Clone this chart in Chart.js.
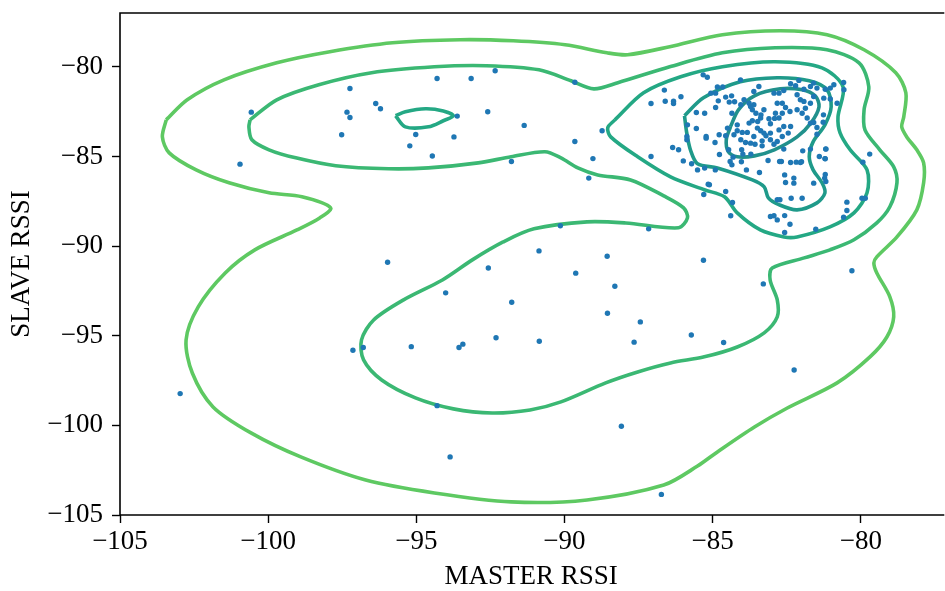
<!DOCTYPE html>
<html><head><meta charset="utf-8">
<script src="https://cdn.jsdelivr.net/npm/chart.js@4.4.1/dist/chart.umd.min.js"></script>
<style>html,body{margin:0;padding:0;background:#fff;}#wrap{width:945px;height:591px;}</style>
</head><body><div id="wrap"><canvas id="c" width="945" height="591"></canvas></div>
<script>
// axis ticks
const xTicks = [-105, -100, -95, -90, -85, -80];
const yTicks = [-105, -100, -95, -90, -85, -80];
const xRange = [-105, -77.25];
const yRange = [-105, -77.0];
const xTitle = 'MASTER RSSI';
const yTitle = 'SLAVE RSSI';

// scatter samples [master, slave]
const samples = [
[-100.57,-82.53],[-100.95,-85.43],[-97.24,-81.21],[-97.34,-82.53],[-97.24,-82.83],[-96.37,-82.05],[-96.21,-82.34],[-97.52,-83.79],
[-94.30,-80.65],[-93.15,-80.65],[-92.34,-80.22],[-93.62,-82.75],[-92.59,-82.51],[-91.36,-83.27],[-95.02,-83.78],[-93.73,-83.91],
[-95.22,-84.41],[-94.46,-84.98],[-89.65,-84.17],[-89.04,-85.12],[-91.79,-85.28],[-89.18,-86.21],[-89.65,-80.86],
[-90.14,-88.87],[-95.97,-90.90],[-90.86,-90.27],[-85.31,-90.79],[-92.57,-91.22],[-89.62,-91.51],[-88.30,-92.24],[-94.01,-92.61],
[-91.78,-93.13],[-88.55,-93.75],[-87.44,-94.23],[-92.31,-95.11],[-90.85,-95.31],[-87.65,-95.36],[-85.72,-94.96],[-84.63,-95.38],
[-97.14,-95.81],[-96.79,-95.66],[-95.17,-95.61],[-93.56,-95.66],[-93.43,-95.47],[-102.97,-98.23],[-94.30,-98.90],[-88.08,-100.05],
[-93.86,-101.76],[-86.73,-103.85],[-83.29,-92.11],[-80.30,-91.38],[-82.25,-96.91],
[-88.73,-83.57],[-88.56,-90.57],[-87.16,-89.04],[-87.08,-85.00],[-87.08,-82.05],[-86.60,-81.92],[-86.32,-81.92],[-86.32,-82.05],
[-86.07,-81.67],[-86.63,-81.30],[-85.18,-80.58],[-85.32,-80.45],[-86.35,-84.50],[-86.15,-84.63],[-85.99,-85.25],[-85.87,-84.07],
[-85.87,-83.89],[-85.85,-83.24],[-85.55,-83.44],[-85.55,-82.55],[-85.27,-82.59],[-85.51,-85.75],[-85.27,-85.65],[-84.91,-85.75],
[-85.22,-83.89],[-85.22,-83.98],[-85.11,-86.58],[-85.15,-86.55],[-85.30,-87.12],[-84.56,-86.96],[-84.33,-87.57],[-84.39,-88.31],
[-84.90,-81.47],[-84.84,-81.13],[-84.66,-81.13],[-85.06,-81.47],[-84.81,-81.90],[-84.90,-82.27],[-84.56,-81.69],[-84.36,-81.62],
[-84.44,-81.97],[-84.26,-81.95],[-84.35,-82.59],[-84.92,-84.22],[-84.77,-84.89],[-84.78,-83.79],[-84.56,-83.85],[-84.50,-83.42],
[-84.28,-83.79],[-84.17,-83.57],[-84.00,-83.66],[-84.46,-84.63],[-84.31,-85.04],[-84.41,-85.28],[-84.35,-85.47],[-84.03,-85.30],
[-83.86,-85.75],[-83.42,-85.90],[-84.02,-84.63],[-83.98,-84.87],[-83.71,-84.87],[-83.57,-84.32],[-83.33,-84.41],[-82.93,-84.32],
[-82.60,-84.59],[-82.68,-85.28],[-82.74,-85.28],[-82.37,-85.34],[-82.18,-85.32],[-82.00,-85.30],[-81.96,-84.69],[-81.70,-84.59],
[-81.48,-83.39],[-81.48,-83.76],[-81.18,-84.58],[-81.20,-85.13],[-81.40,-85.00],[-83.48,-83.05],[-83.54,-82.59],[-83.37,-82.68],
[-83.27,-82.40],[-83.10,-82.90],[-83.05,-83.18],[-82.91,-82.88],[-82.88,-82.59],[-82.76,-82.86],[-82.65,-82.59],[-82.54,-82.27],
[-82.39,-82.49],[-82.82,-82.03],[-82.65,-82.03],[-83.38,-82.86],[-83.38,-83.57],[-83.49,-83.42],[-83.27,-83.70],[-83.61,-83.89],
[-83.33,-84.13],[-83.05,-84.07],[-82.82,-84.17],[-82.65,-83.89],[-82.45,-83.70],[-82.37,-83.33],[-82.60,-83.33],[-82.76,-83.52],
[-83.05,-83.70],[-83.20,-83.85],[-83.77,-83.14],[-83.66,-83.01],[-84.17,-83.24],[-83.83,-83.66],[-84.05,-84.07],[-83.89,-84.22],
[-83.72,-84.26],[-83.61,-81.38],[-83.44,-81.10],[-83.61,-82.12],[-83.66,-82.40],[-83.72,-82.21],[-83.94,-81.84],[-84.05,-82.12],
[-83.77,-82.03],[-82.93,-81.47],[-82.76,-81.47],[-82.60,-81.32],[-82.37,-80.95],[-82.20,-81.06],[-82.09,-80.76],[-81.92,-81.25],
[-81.70,-81.10],[-81.59,-80.91],[-81.48,-81.19],[-81.20,-81.25],[-81.03,-81.19],[-80.91,-81.00],[-80.58,-80.87],[-80.57,-81.28],
[-80.80,-82.03],[-81.03,-81.80],[-81.25,-81.75],[-81.59,-81.66],[-81.70,-82.03],[-81.92,-81.93],[-82.15,-81.56],[-82.04,-81.84],
[-81.87,-82.31],[-81.98,-82.59],[-82.15,-82.40],[-81.81,-82.86],[-81.70,-83.14],[-81.59,-83.11],[-81.26,-82.68],[-81.27,-83.09],
[-82.57,-86.03],[-82.26,-86.21],[-82.26,-86.49],[-82.54,-86.45],[-81.59,-86.49],[-82.04,-85.34],[-82.82,-87.42],[-82.73,-87.42],
[-83.05,-88.35],[-82.93,-88.31],[-82.82,-88.54],[-82.57,-88.30],[-82.39,-88.78],[-82.57,-89.24],[-82.35,-87.33],[-81.98,-87.33],
[-81.52,-89.06],[-81.20,-86.01],[-81.22,-86.21],[-81.18,-86.40],[-80.47,-87.55],[-80.47,-88.02],[-80.58,-88.39],[-79.96,-87.33],
[-79.85,-87.33],[-79.93,-85.32],[-79.70,-84.87],[-81.21,-85.12],[-81.18,-84.59],[-85.71,-85.41],[-83.13,-85.23],[-84.06,-80.73]
];

// density contour levels (outermost to innermost), [master, slave]
const contour1 = [[-103.44,-82.96],[-103.57,-83.91],[-103.34,-84.80],[-102.43,-85.75],[-101.32,-86.47],[-99.97,-87.03],[-98.86,-87.25],[-97.89,-87.87],[-98.26,-88.43],[-99.03,-89.10],[-100.45,-90.21],[-101.45,-91.50],[-102.36,-93.39],[-102.77,-95.23],[-102.56,-97.08],[-101.86,-98.97],[-100.58,-100.42],[-98.90,-101.76],[-96.71,-103.05],[-94.39,-103.77],[-91.80,-104.27],[-89.24,-104.16],[-86.65,-103.33],[-85.51,-102.27],[-84.84,-101.48],[-83.59,-100.09],[-82.48,-99.03],[-80.80,-97.63],[-79.69,-96.18],[-79.12,-95.07],[-78.89,-93.95],[-79.02,-92.83],[-79.46,-91.50],[-79.56,-90.94],[-79.46,-90.60],[-78.78,-89.49],[-78.11,-87.98],[-77.88,-86.47],[-77.88,-85.36],[-78.11,-84.63],[-78.45,-83.91],[-78.62,-83.35],[-78.55,-82.79],[-78.48,-81.45],[-78.82,-80.33],[-79.89,-79.05],[-81.14,-78.21],[-82.72,-77.99],[-84.67,-78.21],[-86.45,-78.88],[-87.87,-79.33],[-88.57,-79.22],[-89.98,-78.77],[-91.73,-78.55],[-93.52,-78.49],[-95.80,-78.66],[-97.92,-79.16],[-99.71,-79.78],[-101.49,-80.73],[-102.73,-81.84],[-103.44,-82.96]];
const contour2 = [[-100.61,-82.96],[-99.71,-81.84],[-98.29,-81.00],[-96.51,-80.33],[-94.39,-80.00],[-92.64,-79.94],[-90.86,-80.17],[-89.78,-80.78],[-89.01,-81.23],[-88.20,-80.89],[-86.45,-80.00],[-84.67,-79.22],[-82.89,-78.94],[-81.14,-79.05],[-80.06,-79.78],[-79.73,-81.12],[-79.89,-82.40],[-79.86,-83.52],[-79.36,-84.63],[-78.89,-85.58],[-78.78,-86.47],[-79.02,-87.81],[-79.46,-88.71],[-80.23,-89.65],[-81.04,-90.21],[-81.91,-90.66],[-82.99,-91.22],[-83.06,-91.89],[-82.82,-93.00],[-82.82,-93.95],[-83.26,-94.84],[-84.17,-95.63],[-85.28,-96.18],[-86.42,-96.52],[-87.53,-97.02],[-88.61,-97.63],[-90.12,-98.69],[-91.16,-99.14],[-92.44,-99.31],[-93.75,-99.08],[-95.03,-98.47],[-96.17,-97.47],[-96.78,-96.35],[-96.85,-95.23],[-96.44,-94.12],[-95.43,-93.00],[-94.12,-91.89],[-93.11,-90.77],[-92.07,-89.77],[-91.03,-89.04],[-89.24,-88.65],[-87.93,-88.71],[-86.15,-88.98],[-85.85,-88.43],[-85.98,-87.87],[-86.65,-87.20],[-87.77,-86.31],[-88.88,-86.03],[-89.55,-85.64],[-90.12,-85.08],[-90.66,-84.74],[-91.80,-85.02],[-92.91,-85.36],[-94.59,-85.64],[-95.94,-85.69],[-97.72,-85.52],[-99.07,-85.08],[-99.97,-84.63],[-100.55,-84.07],[-100.65,-83.35],[-100.61,-82.96]];
const contour3 = [[-88.30,-82.96],[-87.33,-81.45],[-86.08,-80.56],[-84.67,-80.00],[-82.89,-79.72],[-81.31,-80.06],[-80.60,-81.12],[-80.77,-82.79],[-80.70,-83.68],[-80.36,-84.63],[-79.79,-85.75],[-79.79,-87.03],[-80.23,-88.15],[-81.04,-88.93],[-82.15,-89.49],[-82.59,-89.49],[-83.39,-89.10],[-84.17,-88.15],[-84.60,-87.25],[-85.28,-86.86],[-86.42,-86.14],[-87.53,-85.02],[-88.44,-83.91],[-88.54,-83.40],[-88.30,-82.96]];
const contour3b = [[-95.70,-82.73],[-95.37,-82.51],[-94.69,-82.34],[-94.09,-82.46],[-93.75,-82.73],[-94.09,-83.01],[-94.59,-83.35],[-95.37,-83.35],[-95.70,-82.73]];
const contour4 = [[-85.95,-82.73],[-85.31,-81.73],[-84.07,-80.84],[-82.82,-80.61],[-81.74,-80.78],[-81.14,-81.28],[-81.00,-82.23],[-81.21,-83.24],[-81.61,-84.19],[-81.74,-85.02],[-81.61,-85.75],[-81.31,-86.47],[-81.21,-87.03],[-81.48,-87.59],[-82.15,-87.98],[-82.75,-87.70],[-83.12,-87.31],[-83.26,-86.70],[-83.66,-86.31],[-84.84,-85.64],[-85.51,-85.41],[-85.75,-84.63],[-85.88,-83.63],[-85.95,-82.73]];
const contour5 = [[-84.40,-83.35],[-84.13,-82.40],[-83.59,-81.62],[-82.72,-81.23],[-81.98,-81.28],[-81.54,-81.62],[-81.41,-82.23],[-81.68,-83.13],[-82.15,-83.91],[-82.92,-84.63],[-83.59,-84.97],[-84.17,-85.02],[-84.47,-84.74],[-84.54,-84.07],[-84.40,-83.35]];

const levelColors = ['#5ec962', '#3bb873', '#24a884', '#1f9a8a', '#21918c'];
const FONT = "'Liberation Serif', 'DejaVu Serif', serif";

const toXY = arr => arr.map(p => ({x: p[0], y: p[1]}));
const lineDs = (arr, color) => ({
  type: 'scatter', data: toXY(arr), showLine: true, borderColor: color, backgroundColor: color,
  borderWidth: 3.6, pointRadius: 0, pointHoverRadius: 0, tension: 0.3, fill: false, borderJoinStyle: 'round'
});

const frame = {
  id: 'frame',
  afterDraw(chart) {
    const {ctx, chartArea: a} = chart;
    ctx.save();
    ctx.strokeStyle = '#000'; ctx.lineWidth = 1.6;
    ctx.beginPath();
    ctx.moveTo(a.right + 2, a.top); ctx.lineTo(a.left, a.top); ctx.lineTo(a.left, a.bottom); ctx.lineTo(a.right + 2, a.bottom);
    ctx.stroke();
    ctx.restore();
  }
};

const minus = v => (v < 0 ? '\u2212' + Math.abs(v) : String(v));

new Chart(document.getElementById('c'), {
  type: 'scatter',
  data: {
    datasets: [
      {type: 'scatter', data: toXY(samples), backgroundColor: '#1f77b4', borderWidth: 0, pointRadius: 2.7, pointHoverRadius: 2.7},
      lineDs(contour5, levelColors[4]),
      lineDs(contour4, levelColors[3]),
      lineDs(contour3, levelColors[2]),
      lineDs(contour3b, levelColors[2]),
      lineDs(contour2, levelColors[1]),
      lineDs(contour1, levelColors[0])
    ]
  },
  options: {
    responsive: false, animation: false, devicePixelRatio: 1,
    layout: {padding: {top: 13, right: 0, left: 0, bottom: 0}},
    plugins: {legend: {display: false}, tooltip: {enabled: false}},
    scales: {
      x: {
        type: 'linear', min: xRange[0], max: xRange[1],
        afterBuildTicks: s => { s.ticks = xTicks.map(v => ({value: v})); },
        afterFit: s => { s.height = 76; s.paddingLeft = 0; s.paddingRight = 0; },
        grid: {drawOnChartArea: false, drawTicks: true, tickLength: 8, tickColor: '#000', tickWidth: 1.4, color: '#000'},
        border: {display: false},
        ticks: {color: '#000', font: {family: FONT, size: 27}, padding: 3, callback: v => minus(v), maxRotation: 0},
        title: {display: true, text: xTitle, color: '#000', font: {family: FONT, size: 27, lineHeight: 1.05}, padding: {top: 0, bottom: 0}}
      },
      y: {
        type: 'linear', min: yRange[0], max: yRange[1],
        afterBuildTicks: s => { s.ticks = yTicks.map(v => ({value: v})); },
        afterFit: s => { s.width = 120; s.paddingTop = 0; s.paddingBottom = 0; },
        grid: {drawOnChartArea: false, drawTicks: true, tickLength: 8, tickColor: '#000', tickWidth: 1.4, color: '#000'},
        border: {display: false},
        ticks: {color: '#000', font: {family: FONT, size: 27}, padding: 9, callback: v => minus(v)},
        title: {display: true, text: yTitle, color: '#000', font: {family: FONT, size: 27, lineHeight: 1.2}, padding: {top: 6, bottom: 0}}
      }
    }
  },
  plugins: [frame]
});
</script>
</body></html>
